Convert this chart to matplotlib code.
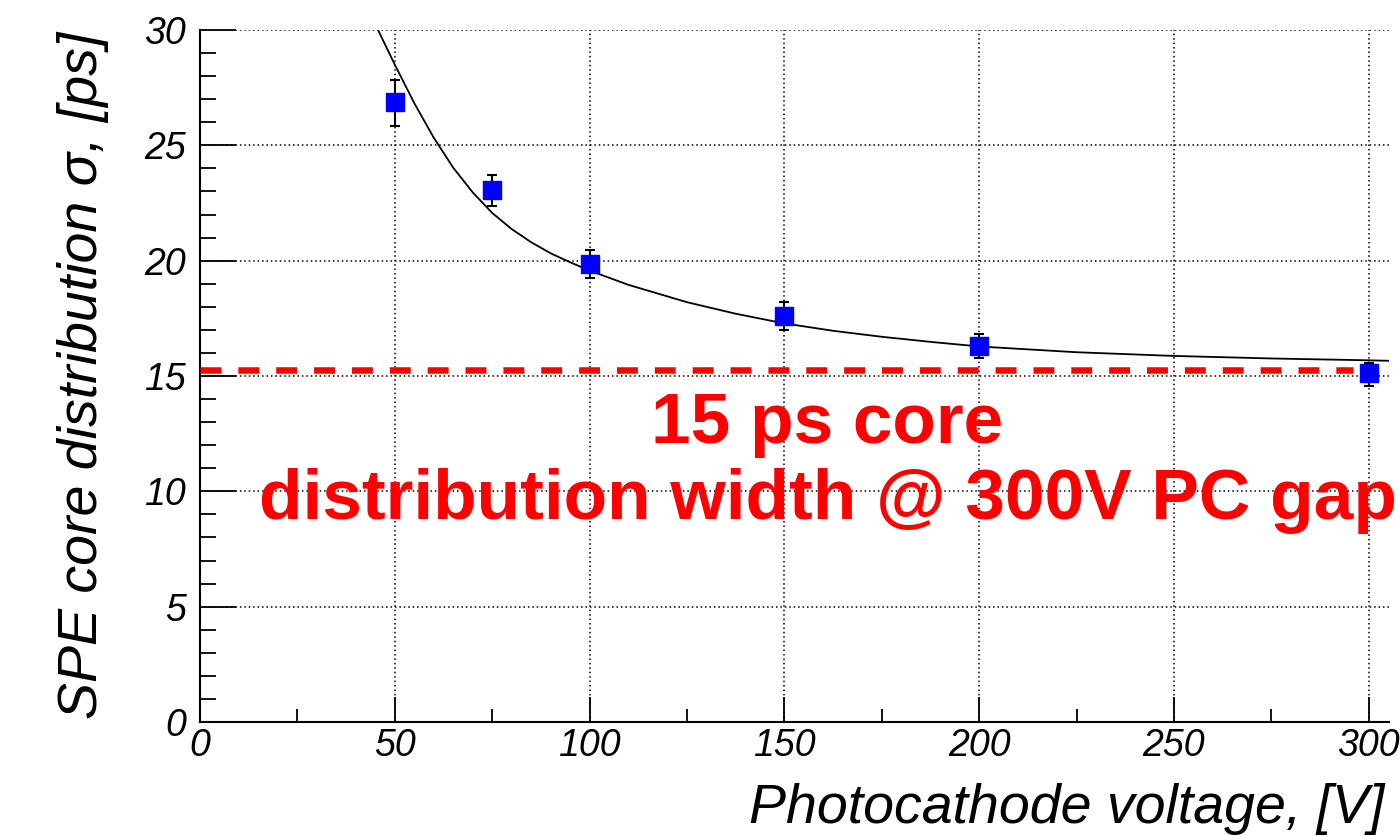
import matplotlib
matplotlib.use("Agg")
import matplotlib.pyplot as plt
from matplotlib.ticker import MultipleLocator

# ---- data ----
voltage = [50, 75, 100, 150, 200, 300]
sigma = [26.87, 23.05, 19.87, 17.60, 16.28, 15.11]
sigma_err_lo = [1.05, 0.70, 0.60, 0.62, 0.52, 0.55]
sigma_err_hi = [0.98, 0.66, 0.58, 0.62, 0.54, 0.45]

# fitted curve, points
fit_x = [45.5, 50, 55, 60, 65, 70, 75, 80, 85, 90, 95, 100, 110, 125, 137.5,
         150, 162.5, 175, 187.5, 200, 225, 250, 275, 300, 305]
fit_y = [30.07, 28.5, 26.83, 25.33, 24.03, 22.96, 22.07, 21.37, 20.8, 20.32, 19.93,
         19.57, 18.95, 18.2, 17.7, 17.28, 16.96, 16.70, 16.48, 16.28, 16.03, 15.87,
         15.76, 15.68, 15.66]

# red reference line
ref_level = 15.27
ref_x = [0, 296]

x_ticks = [0, 50, 100, 150, 200, 250, 300]
y_ticks = [0, 5, 10, 15, 20, 25, 30]

plt.rcParams['font.family'] = ['Liberation Sans', 'DejaVu Sans']

W, H = 1400, 836
fig = plt.figure(figsize=(W / 100, H / 100), dpi=100)
ax = fig.add_axes([200 / W, 1 - 722 / H, 1189 / W, 692 / H])

ax.set_xlim(0, 305.2)
ax.set_ylim(0, 30)
ax.set_xticks(x_ticks)
ax.set_yticks(y_ticks)
ax.xaxis.set_minor_locator(MultipleLocator(25))
ax.yaxis.set_minor_locator(MultipleLocator(1))

ax.grid(True, which='major', color='black', lw=1.1, linestyle=(0, (1, 1.9)))
ax.set_axisbelow(True)

for s in ['top', 'right']:
    ax.spines[s].set_visible(False)
for s in ['left', 'bottom']:
    ax.spines[s].set_linewidth(1.5)

ax.tick_params(axis='y', which='major', direction='in', length=26, width=1.3,
               labelsize=27, pad=10)
ax.tick_params(axis='y', which='minor', direction='in', length=11.5, width=1.3)
ax.tick_params(axis='x', which='major', direction='in', length=18, width=1.3,
               labelsize=27, pad=4)
ax.tick_params(axis='x', which='minor', direction='in', length=9.5, width=1.3)
for lab in ax.get_xticklabels() + ax.get_yticklabels():
    lab.set_fontstyle('italic')

# fit curve
ax.plot(fit_x, fit_y, color='black', lw=1.3, zorder=3)

# data points
ax.errorbar(voltage, sigma, yerr=[sigma_err_lo, sigma_err_hi], fmt='s',
            ms=12.5, mfc='#0000ff', mec='#0000ff', ecolor='black',
            elinewidth=1.5, capsize=3.5, capthick=1.5, zorder=4)

# red dashed reference line
ax.plot(ref_x, [ref_level, ref_level], color='#ff0000', lw=4.7,
        dashes=(3.2, 2.6), solid_capstyle='butt', zorder=5)

# annotation
fig.text(827 / W, 1 - 443 / H, '15 ps core', color='#ff0000', fontsize=51.3,
         fontweight='bold', ha='center', va='baseline')
fig.text(259 / W, 1 - 519 / H, 'distribution width @ 300V PC gap', color='#ff0000',
         fontsize=51.3, fontweight='bold', ha='left', va='baseline')

# axis titles
fig.text(1384 / W, 1 - 823 / H, 'Photocathode voltage, [V]', fontsize=40,
         fontstyle='italic', ha='right', va='baseline')
fig.text(83 / W, 1 - 32 / H, 'SPE core distribution σ, [ps]', fontsize=40,
         fontstyle='italic', rotation=90, ha='center', va='top')

fig.savefig('out.png', dpi=100)
